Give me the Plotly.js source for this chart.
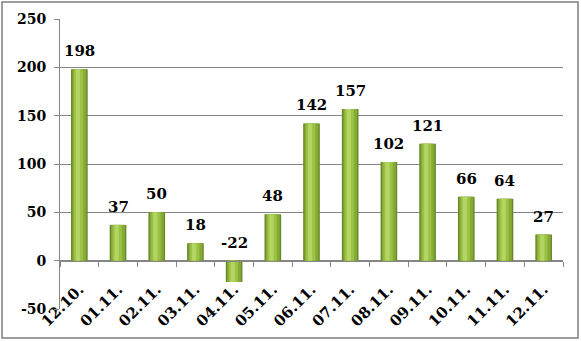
<!DOCTYPE html>
<html>
<head>
<meta charset="utf-8">
<script src="https://cdn.plot.ly/plotly-3.0.1.min.js"></script>
<style>html,body{margin:0;padding:0;background:#fff;}#chart{width:581px;height:341px;}</style>
</head>
<body>
<div id="chart"></div>
<script>
const categories = ["12.10.", "01.11.", "02.11.", "03.11.", "04.11.", "05.11.", "06.11.", "07.11.", "08.11.", "09.11.", "10.11.", "11.11.", "12.11."];
const values = [198, 37, 50, 18, -22, 48, 142, 157, 102, 121, 66, 64, 27];
const yTicks = [-50, 0, 50, 100, 150, 200, 250];

const fontFam = "DejaVu Serif";
const gray = '#868686';

function barLayer(w, color, offset) {
  const t = {
    type: 'bar', x: categories, y: values, width: w,
    marker: {color: color, line: {width: 0}},
    hoverinfo: 'skip', showlegend: false
  };
  if (offset !== undefined) t.offset = offset;
  return t;
}

const traces = [
  barLayer(0.43, '#66862a'),
  barLayer(0.36, '#86ab35'),
  barLayer(0.24, '#9cc146', -0.14),
  barLayer(0.11, '#b4d562', -0.09)
];

const annotations = categories.map((c, i) => ({
  x: c, y: Math.max(values[i], 0), text: String(values[i]),
  xref: 'x', yref: 'y', yanchor: 'bottom', yshift: 7, showarrow: false,
  font: {family: fontFam, size: 15, color: '#000', weight: 'bold'}
}));

const layout = {
  width: 581, height: 341,
  margin: {l: 60, r: 18, t: 19, b: 32},
  paper_bgcolor: '#fff', plot_bgcolor: '#fff',
  barmode: 'overlay',
  showlegend: false,
  font: {family: fontFam},
  xaxis: {
    type: 'category', range: [-0.5, 12.5],
    anchor: 'free', position: 1/6,
    showline: true, linecolor: gray, linewidth: 1,
    ticks: 'outside', tickson: 'boundaries', ticklen: 5, tickcolor: gray,
    tickangle: -45, ticklabelstandoff: 13,
    showgrid: false, zeroline: false, automargin: false,
    tickfont: {family: fontFam, size: 15, color: '#000', weight: 'bold'}
  },
  yaxis: {
    range: [-50, 250], tickvals: yTicks, ticktext: yTicks.map(String),
    showgrid: true, gridcolor: gray, gridwidth: 1,
    zeroline: false, showline: true, linecolor: gray, linewidth: 1,
    ticks: 'outside', ticklen: 5, tickcolor: gray, automargin: false,
    ticklabelstandoff: 5,
    tickfont: {family: fontFam, size: 14, color: '#000', weight: 'bold'}
  },
  annotations: annotations,
  shapes: [{
    type: 'rect', xref: 'paper', yref: 'paper',
    x0: -58/503, x1: 1 + 15/503, y0: -29/289.5, y1: 1 + 17/289.5,
    line: {color: '#7f7f7f', width: 1.5}, fillcolor: 'rgba(0,0,0,0)', layer: 'below'
  }]
};

Plotly.newPlot('chart', traces, layout, {staticPlot: true, displayModeBar: false});
</script>
</body>
</html>
